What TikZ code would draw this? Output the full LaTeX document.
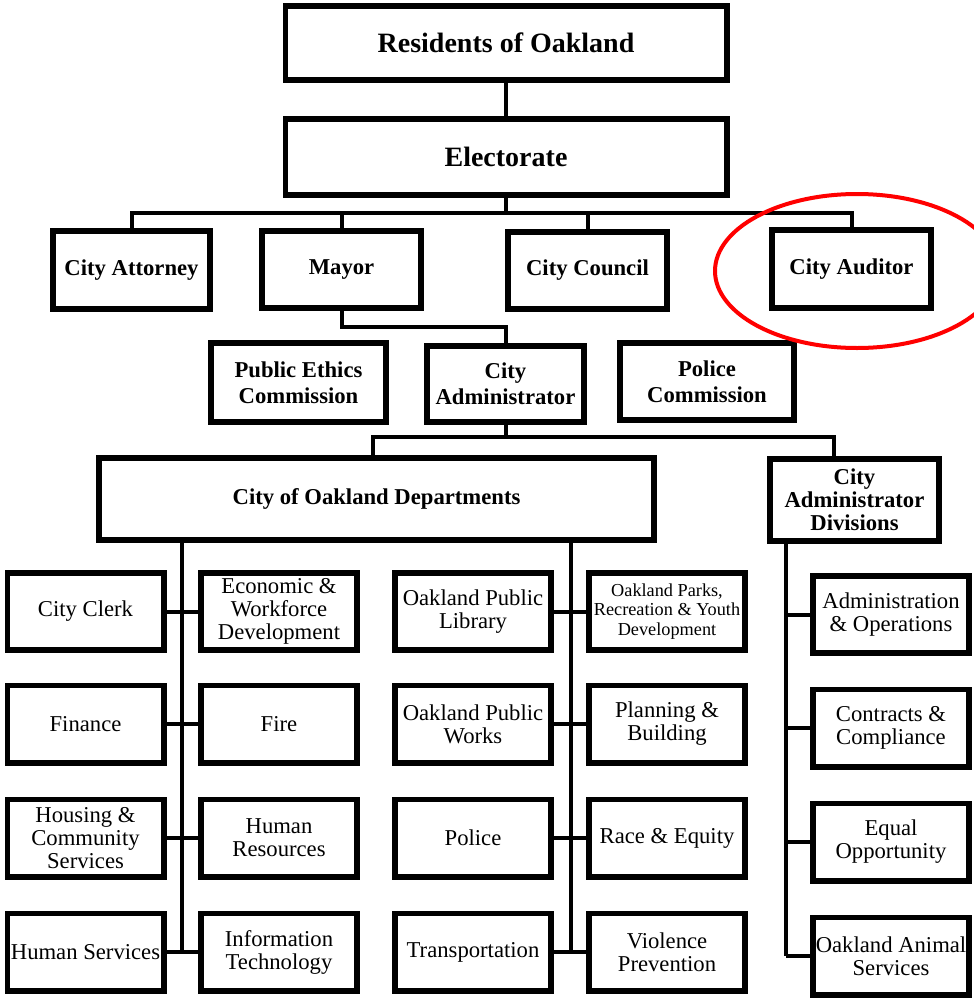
\documentclass[tikz,border=0pt]{standalone}
\usepackage{fontspec}
\setmainfont{Liberation Serif}
\usetikzlibrary{shadows}
\begin{document}
\begin{tikzpicture}[x=0.75pt,y=-0.75pt,
  box/.style={draw, line width=4.4pt, fill=white, inner sep=0pt, align=center,
    drop shadow={shadow xshift=0.5pt, shadow yshift=-1.2pt, opacity=0.3}},
  sz/.style 2 args={minimum width={#1*0.75pt-4.4pt}, minimum height={#2*0.75pt-4.4pt}},
  topbox/.style={box, font=\fontsize{21}{25}\selectfont\bfseries},
  midbox/.style={box, font=\fontsize{17}{19.5}\selectfont\bfseries},
  depbox/.style={box, font=\fontsize{17}{17.3}\selectfont, sz={162}{83}},
  smalltxt/.style={font=\fontsize{13.7}{14.7}\selectfont},
  conn/.style={line width=3pt},
]
\useasboundingbox (0,0) rectangle (974,999);

% top levels
\node[topbox, sz={447}{80}] (res) at (506,43) {Residents of Oakland};
\node[topbox, sz={447}{82}] (ele) at (506,157) {Electorate};

\node[midbox, sz={163}{84}] (att) at (131.5,270) {City Attorney};
\node[midbox, sz={165}{83}] (may) at (341.5,269.5) {Mayor};
\node[midbox, sz={165}{83}] (cou) at (587.5,270.5) {City Council};
\node[midbox, sz={165}{84}] (aud) at (851.5,269) {City Auditor};

\node[midbox, sz={181}{85}] (eth) at (298.5,382.5) {Public Ethics\\Commission};
\node[midbox, sz={163}{82}] (adm) at (505.5,384) {City\\Administrator};
\node[midbox, sz={180}{83}] (pol) at (707,381.5) {Police\\Commission};

\node[midbox, sz={561}{88}] (dep) at (376.5,499) {City of Oakland Departments};
\node[midbox, sz={175}{88}, font=\fontsize{17}{17.3}\selectfont\bfseries] (div) at (854.5,500) {City\\Administrator\\Divisions};

% department grid
\node[depbox] (a1) at (85.5,611.5) {City Clerk};
\node[depbox] (a2) at (85.5,724) {Finance};
\node[depbox] (a3) at (85.5,838) {Housing \&\\Community\\Services};
\node[depbox] (a4) at (85.5,952) {Human Services};

\node[depbox] (b1) at (279,611.5) {Economic \&\\Workforce\\Development};
\node[depbox] (b2) at (279,724) {Fire};
\node[depbox] (b3) at (279,838) {Human\\Resources};
\node[depbox] (b4) at (279,952) {Information\\Technology};

\node[depbox] (c1) at (473,611.5) {Oakland Public\\Library};
\node[depbox] (c2) at (473,724) {Oakland Public\\Works};
\node[depbox] (c3) at (473,838) {Police};
\node[depbox] (c4) at (473,952) {Transportation};

\node[depbox, smalltxt] (e1) at (667,611.5) {Oakland Parks,\\Recreation \& Youth\\Development};
\node[depbox] (e2) at (667,724) {Planning \&\\Building};
\node[depbox] (e3) at (667,838) {Race \& Equity};
\node[depbox] (e4) at (667,952) {Violence\\Prevention};

\node[depbox] (v1) at (891,614.5) {Administration\\\& Operations};
\node[depbox] (v2) at (891,728) {Contracts \&\\Compliance};
\node[depbox] (v3) at (891,842) {Equal\\Opportunity};
\node[depbox] (v4) at (891,956) {Oakland Animal\\Services};

% connectors
\coordinate (bus1) at (506,213);
\coordinate (bus2) at (424,327);
\coordinate (l3) at (373,437);
\coordinate (r3) at (834,437);
\coordinate (sp1) at (182,952);
\coordinate (sp2) at (570.5,952);
\coordinate (sp3) at (786,956);

\draw[conn] (res.south) -- (ele.north);
\draw[conn] (ele.south) -- (bus1);
\draw[conn] (att.north) |- (bus1) -| (aud.north);
\draw[conn] (may.north) -- (may.north |- bus1);
\draw[conn] (cou.north) -- (cou.north |- bus1);

\draw[conn] (may.south) |- (bus2) -| (adm.north);

\draw[conn] (adm.south) -- (adm.south |- l3);
\draw[conn] (dep.north -| l3) -- (l3) -- (r3) -- (div.north -| r3);

\draw[conn] (dep.south -| sp1) -- (sp1);
\draw[conn] (dep.south -| sp2) -- (sp2);
\draw[conn] (div.south -| sp3) -- (sp3);

\foreach \i in {1,2,3,4}{
  \draw[conn] (a\i.east) -- (b\i.west);
  \draw[conn] (c\i.east) -- (e\i.west);
  \draw[conn] (v\i.west -| sp3) -- (v\i.west);
}

% highlight
\draw[red, line width=3pt] (857,271) ellipse [x radius=106.5pt, y radius=57.75pt];
\end{tikzpicture}
\end{document}
